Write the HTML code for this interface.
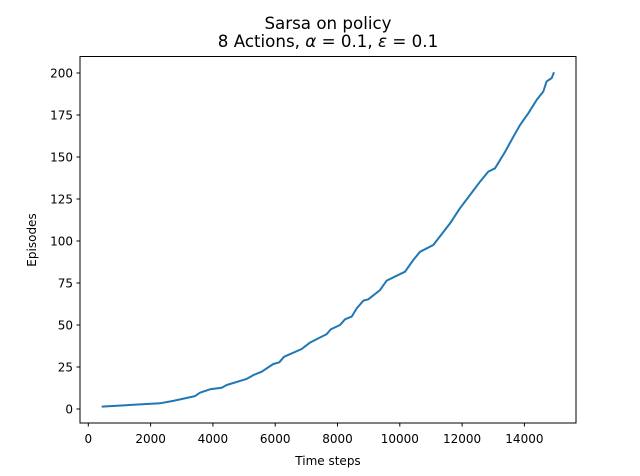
<!DOCTYPE html>
<html><head><meta charset="utf-8"><style>
html,body{margin:0;padding:0;background:#fff;}
svg{display:block;font-family:"DejaVu Sans","Liberation Sans",sans-serif;}
</style></head><body>
<svg id="chart" width="640" height="476">
<rect x="0" y="0" width="640" height="476" fill="#fff"/>
<text x="328" y="29" font-size="16.7" text-anchor="middle">Sarsa on policy</text>
<text x="328" y="47" font-size="16.7" text-anchor="middle">8 Actions, <tspan font-style="italic">α</tspan> = 0.1, <tspan font-style="italic">ε</tspan> = 0.1</text>
<g id="xticks"></g><g id="yticks"></g>
<path id="line" fill="none" stroke="#1f77b4" stroke-width="2" stroke-linejoin="round"/>
<rect x="80" y="56.5" width="496" height="366.5" fill="none" stroke="#000" stroke-width="1"/>
<text x="328" y="465" font-size="12" text-anchor="middle">Time steps</text>
<text transform="translate(36,240) rotate(-90)" font-size="12" text-anchor="middle">Episodes</text>
</svg>
<script>
const xVals=[430,2300,2730,3425,3586,3907,4282,4443,5085,5299,5567,5940,6133,6283,6850,7117,7384,7652,7781,8080,8240,8455,8616,8830,8990,9364,9580,10167,10434,10648,11075,11611,11932,12253,12574,12842,13056,13377,13645,13859,14126,14394,14607,14714,14875,14950];
const yVals=[1.4,3.4,4.8,7.7,9.7,11.7,12.7,14.3,17.9,20.2,22.2,26.8,27.8,31.1,35.7,39.5,42,44.6,47.4,50,53.4,55,59.9,64.5,65.3,70.8,76.4,81.7,88.7,93.6,97.6,110.5,119.5,127.4,135.3,141.3,143.3,153,162,169,176,184,189,195,197,200.4];
const xTicks=[0,2000,4000,6000,8000,10000,12000,14000];
const yTicks=[0,25,50,75,100,125,150,175,200];
const ns="http://www.w3.org/2000/svg";
function sx(v){return 88.3+v*62.3/2000;}
function sy(v){return 409-v*1.68;}
const xg=document.getElementById('xticks'),yg=document.getElementById('yticks');
xTicks.forEach(t=>{
 const l=document.createElementNS(ns,'line');
 l.setAttribute('x1',sx(t));l.setAttribute('x2',sx(t));l.setAttribute('y1',423);l.setAttribute('y2',426.5);l.setAttribute('stroke','#000');
 
 
 xg.appendChild(l);
 const tx=document.createElementNS(ns,'text');
 tx.setAttribute('x',sx(t));tx.setAttribute('y',443);tx.setAttribute('font-size','12');tx.setAttribute('text-anchor','middle');
 tx.textContent=t;
 
 
 xg.appendChild(tx);
});
yTicks.forEach(t=>{
 const l=document.createElementNS(ns,'line');
 l.setAttribute('x1',76.5);l.setAttribute('x2',80);l.setAttribute('y1',sy(t));l.setAttribute('y2',sy(t));l.setAttribute('stroke','#000');
 
 
 yg.appendChild(l);
 const tx=document.createElementNS(ns,'text');
 tx.setAttribute('x',73);tx.setAttribute('y',sy(t)+4.5);tx.setAttribute('font-size','12');tx.setAttribute('text-anchor','end');
 tx.textContent=t;
 
 
 yg.appendChild(tx);
});
document.getElementById('line').setAttribute('d',xVals.map((x,i)=>(i?'L':'M')+sx(x).toFixed(1)+','+sy(yVals[i]).toFixed(1)).join(' '));
</script>
</body></html>
